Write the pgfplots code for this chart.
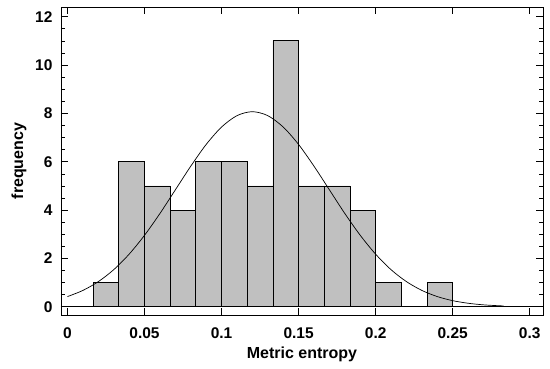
\documentclass[border=0pt]{standalone}
\usepackage{pgfplots}
\pgfplotsset{compat=1.18}
\usepackage{fontspec}
\setmainfont{Liberation Sans}
\definecolor{barg}{RGB}{192,192,192}
\begin{document}
\begin{tikzpicture}
\begin{axis}[
  name=ax,
  scale only axis,
  width=482pt, height=308pt,
  xmin=-0.0042, xmax=0.3086,
  ymin=-0.34, ymax=12.4,
  xtick={0,0.05,0.1,0.15,0.2,0.25,0.3},
  xticklabels={0,0.05,0.1,0.15,0.2,0.25,0.3},
  ytick={0,2,4,6,8,10,12},
  minor y tick num=3,
  tick align=inside,
  major tick length=7pt,
  minor tick length=4pt,
  tick style={black, line width=0.6pt},
  axis line style={line width=0.9pt},
  /pgf/number format/assume math mode=true,
  ticklabel style={font=\fontsize{15.5}{18}\selectfont\bfseries},
  xticklabel style={yshift=-9pt},
  yticklabel style={xshift=-5pt},
  label style={font=\fontsize{16}{19}\selectfont\bfseries},
  xlabel={Metric entropy},
  ylabel={frequency},
  xlabel style={yshift=-2pt},
  ylabel style={yshift=2pt},
  clip=false,
]
\addplot[black, line width=0.6pt] coordinates {(-0.0042,0) (0.3086,0)};
\addplot[ybar interval, fill=barg, draw=black, line width=0.8pt] coordinates {
(0.016667,1) (0.033333,6) (0.05,5) (0.066667,4) (0.083333,6) (0.1,6) (0.116667,5)
(0.133333,11) (0.15,5) (0.166667,5) (0.183333,4) (0.2,1) (0.216667,0) (0.233333,1) (0.25,1)};
\addplot[black, line width=0.7pt, smooth] coordinates {
(0,0.422) (0.01,0.676) (0.02,1.040) (0.03,1.534) (0.04,2.175) (0.05,2.957)
(0.06,3.858) (0.07,4.836) (0.08,5.814) (0.09,6.713) (0.10,7.435) (0.11,7.906)
(0.12,8.07) (0.13,7.906) (0.14,7.435) (0.15,6.713) (0.16,5.814) (0.17,4.836)
(0.18,3.858) (0.19,2.957) (0.20,2.175) (0.21,1.534) (0.22,1.040) (0.23,0.676)
(0.24,0.422) (0.25,0.253) (0.26,0.146) (0.27,0.080) (0.28,0.043) (0.283,0.035)};
\end{axis}
\path[use as bounding box] (ax.south west) ++(-61pt,-53pt) rectangle ([shift={(7pt,7pt)}]ax.north east);
\end{tikzpicture}
\end{document}
